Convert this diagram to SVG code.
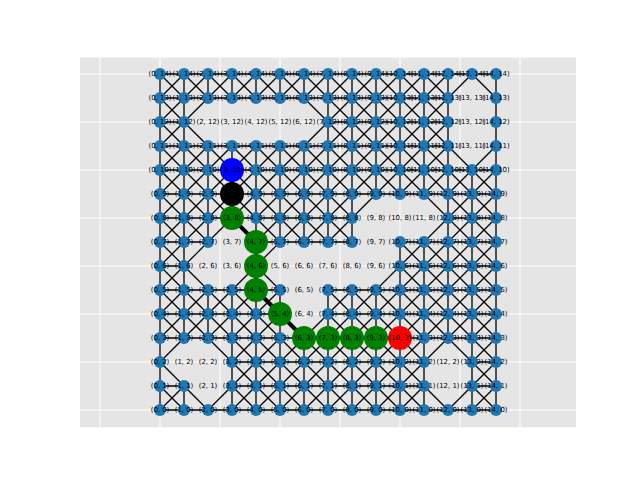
<svg xmlns="http://www.w3.org/2000/svg" width="640" height="480" viewBox="0 0 640 480">
<style>
.bg{fill:#e5e5e5}
.grid{stroke:#ffffff;stroke-width:1;fill:none}
.edge{stroke:#000;stroke-width:1.3;fill:none;stroke-linecap:butt}
.path{stroke:#000;stroke-width:4;fill:none;stroke-linejoin:round}
.n{fill:#1f77b4}
.big{r:12}
text{font-family:"DejaVu Sans","Liberation Sans",sans-serif;font-size:6.94px;text-anchor:middle;fill:#000}
</style>
<rect class="bg" x="80" y="57.6" width="496" height="369.6"/>
<g id="gridlines" class="grid">
<path d="M100 57.6V427.2M160 57.6V427.2M220 57.6V427.2M280 57.6V427.2M340 57.6V427.2M400 57.6V427.2M460 57.6V427.2M520 57.6V427.2"/>
<path d="M80 74H576M80 122H576M80 170H576M80 218H576M80 266H576M80 314H576M80 362H576M80 410H576"/>
</g>
<g id="connectors">
<path class="edge" d="M160 74H496M160 98H448M160 122H184M328 122H448M160 146H448M160 170H496M160 194H496M160 218H352M448 218H496M160 242H208M256 242H352M400 242H496M160 266H184M400 266H496M160 290H280M328 290H496M160 314H280M328 314H496M160 338H496M232 362H424M472 362H496M160 386H184M232 386H424M472 386H496M160 410H496"/>
<path class="edge" d="M160 74V410M184 74V338M184 386V410M208 74V98M208 146V242M208 290V338M232 74V98M232 146V218M232 290V410M256 74V98M256 146V410M280 74V98M280 146V242M280 290V410M304 74V98M304 146V242M304 338V410M328 74V242M328 290V410M352 74V242M352 290V410M376 74V194M376 290V410M400 74V194M400 242V410M424 74V194M424 242V410M448 74V338M472 170V410M496 74V410"/>
<path class="edge" d="M160 98L184 74M160 122L208 74M160 146L232 74M160 170L184 146M232 98L256 74M160 194L208 146M256 98L280 74M160 218L232 146M280 98L304 74M160 242L256 146M304 98L328 74M160 266L280 146M328 98L352 74M160 290L376 74M160 314L184 290M256 218L400 74M160 338L208 290M256 242L424 74M160 362L448 74M208 338L256 290M304 242L472 74M160 410L184 386M232 338L280 290M328 242L448 122M232 362L280 314M400 194L448 146M208 410L280 338M424 194L448 170M232 410L352 290M448 194L496 146M256 410L496 170M280 410L496 194M304 410L496 218M328 410L496 242M352 410L496 266M376 410L496 290M400 410L424 386M472 338L496 314M472 362L496 338M448 410L496 362M472 410L496 386"/>
<path class="edge" d="M160 386L184 410M160 362L208 410M160 314L184 338M232 386L256 410M160 290L280 410M160 266L304 410M160 242L328 410M160 218L184 242M232 290L352 410M160 194L208 242M256 290L376 410M160 170L208 218M256 266L280 290M328 338L400 410M160 146L256 242M328 314L424 410M160 122L280 242M328 290L448 410M160 98L304 242M352 290L424 362M160 74L184 98M232 146L328 242M376 290L424 338M472 386L496 410M184 74L208 98M256 146L352 242M400 290L496 386M208 74L232 98M280 146L352 218M400 266L496 362M232 74L256 98M304 146L352 194M400 242L496 338M256 74L280 98M328 146L376 194M424 242L496 314M280 74L400 194M448 242L496 290M304 74L496 266M328 74L496 242M352 74L496 218M376 74L496 194M400 74L448 122M424 74L448 98M472 74L496 98"/>
<path id="route" class="path" d="M232 170L232 194L232 218L256 242L256 266L256 290L280 314L304 338L328 338L352 338L376 338L400 338"/>
</g>
<g id="empty-labels">
<text x="472" y="100.4">(13, 13)</text>
<text x="208" y="124.4">(2, 12)</text><text x="232" y="124.4">(3, 12)</text><text x="256" y="124.4">(4, 12)</text><text x="280" y="124.4">(5, 12)</text><text x="304" y="124.4">(6, 12)</text><text x="472" y="124.4">(13, 12)</text>
<text x="472" y="148.4">(13, 11)</text>
<text x="376" y="220.4">(9, 8)</text><text x="400" y="220.4">(10, 8)</text><text x="424" y="220.4">(11, 8)</text>
<text x="232" y="244.4">(3, 7)</text><text x="376" y="244.4">(9, 7)</text>
<text x="208" y="268.4">(2, 6)</text><text x="232" y="268.4">(3, 6)</text><text x="280" y="268.4">(5, 6)</text><text x="304" y="268.4">(6, 6)</text><text x="328" y="268.4">(7, 6)</text><text x="352" y="268.4">(8, 6)</text><text x="376" y="268.4">(9, 6)</text>
<text x="304" y="292.4">(6, 5)</text>
<text x="304" y="316.4">(6, 4)</text>
<text x="184" y="364.4">(1, 2)</text><text x="208" y="364.4">(2, 2)</text><text x="448" y="364.4">(12, 2)</text>
<text x="208" y="388.4">(2, 1)</text><text x="448" y="388.4">(12, 1)</text>
</g>
<g id="nodes">
<g id="n0_14"><circle class="n" cx="160" cy="74" r="6"/><text x="160" y="76.4">(0, 14)</text></g>
<g id="n1_14"><circle class="n" cx="184" cy="74" r="6"/><text x="184" y="76.4">(1, 14)</text></g>
<g id="n2_14"><circle class="n" cx="208" cy="74" r="6"/><text x="208" y="76.4">(2, 14)</text></g>
<g id="n3_14"><circle class="n" cx="232" cy="74" r="6"/><text x="232" y="76.4">(3, 14)</text></g>
<g id="n4_14"><circle class="n" cx="256" cy="74" r="6"/><text x="256" y="76.4">(4, 14)</text></g>
<g id="n5_14"><circle class="n" cx="280" cy="74" r="6"/><text x="280" y="76.4">(5, 14)</text></g>
<g id="n6_14"><circle class="n" cx="304" cy="74" r="6"/><text x="304" y="76.4">(6, 14)</text></g>
<g id="n7_14"><circle class="n" cx="328" cy="74" r="6"/><text x="328" y="76.4">(7, 14)</text></g>
<g id="n8_14"><circle class="n" cx="352" cy="74" r="6"/><text x="352" y="76.4">(8, 14)</text></g>
<g id="n9_14"><circle class="n" cx="376" cy="74" r="6"/><text x="376" y="76.4">(9, 14)</text></g>
<g id="n10_14"><circle class="n" cx="400" cy="74" r="6"/><text x="400" y="76.4">(10, 14)</text></g>
<g id="n11_14"><circle class="n" cx="424" cy="74" r="6"/><text x="424" y="76.4">(11, 14)</text></g>
<g id="n12_14"><circle class="n" cx="448" cy="74" r="6"/><text x="448" y="76.4">(12, 14)</text></g>
<g id="n13_14"><circle class="n" cx="472" cy="74" r="6"/><text x="472" y="76.4">(13, 14)</text></g>
<g id="n14_14"><circle class="n" cx="496" cy="74" r="6"/><text x="496" y="76.4">(14, 14)</text></g>
<g id="n0_13"><circle class="n" cx="160" cy="98" r="6"/><text x="160" y="100.4">(0, 13)</text></g>
<g id="n1_13"><circle class="n" cx="184" cy="98" r="6"/><text x="184" y="100.4">(1, 13)</text></g>
<g id="n2_13"><circle class="n" cx="208" cy="98" r="6"/><text x="208" y="100.4">(2, 13)</text></g>
<g id="n3_13"><circle class="n" cx="232" cy="98" r="6"/><text x="232" y="100.4">(3, 13)</text></g>
<g id="n4_13"><circle class="n" cx="256" cy="98" r="6"/><text x="256" y="100.4">(4, 13)</text></g>
<g id="n5_13"><circle class="n" cx="280" cy="98" r="6"/><text x="280" y="100.4">(5, 13)</text></g>
<g id="n6_13"><circle class="n" cx="304" cy="98" r="6"/><text x="304" y="100.4">(6, 13)</text></g>
<g id="n7_13"><circle class="n" cx="328" cy="98" r="6"/><text x="328" y="100.4">(7, 13)</text></g>
<g id="n8_13"><circle class="n" cx="352" cy="98" r="6"/><text x="352" y="100.4">(8, 13)</text></g>
<g id="n9_13"><circle class="n" cx="376" cy="98" r="6"/><text x="376" y="100.4">(9, 13)</text></g>
<g id="n10_13"><circle class="n" cx="400" cy="98" r="6"/><text x="400" y="100.4">(10, 13)</text></g>
<g id="n11_13"><circle class="n" cx="424" cy="98" r="6"/><text x="424" y="100.4">(11, 13)</text></g>
<g id="n12_13"><circle class="n" cx="448" cy="98" r="6"/><text x="448" y="100.4">(12, 13)</text></g>
<g id="n14_13"><circle class="n" cx="496" cy="98" r="6"/><text x="496" y="100.4">(14, 13)</text></g>
<g id="n0_12"><circle class="n" cx="160" cy="122" r="6"/><text x="160" y="124.4">(0, 12)</text></g>
<g id="n1_12"><circle class="n" cx="184" cy="122" r="6"/><text x="184" y="124.4">(1, 12)</text></g>
<g id="n7_12"><circle class="n" cx="328" cy="122" r="6"/><text x="328" y="124.4">(7, 12)</text></g>
<g id="n8_12"><circle class="n" cx="352" cy="122" r="6"/><text x="352" y="124.4">(8, 12)</text></g>
<g id="n9_12"><circle class="n" cx="376" cy="122" r="6"/><text x="376" y="124.4">(9, 12)</text></g>
<g id="n10_12"><circle class="n" cx="400" cy="122" r="6"/><text x="400" y="124.4">(10, 12)</text></g>
<g id="n11_12"><circle class="n" cx="424" cy="122" r="6"/><text x="424" y="124.4">(11, 12)</text></g>
<g id="n12_12"><circle class="n" cx="448" cy="122" r="6"/><text x="448" y="124.4">(12, 12)</text></g>
<g id="n14_12"><circle class="n" cx="496" cy="122" r="6"/><text x="496" y="124.4">(14, 12)</text></g>
<g id="n0_11"><circle class="n" cx="160" cy="146" r="6"/><text x="160" y="148.4">(0, 11)</text></g>
<g id="n1_11"><circle class="n" cx="184" cy="146" r="6"/><text x="184" y="148.4">(1, 11)</text></g>
<g id="n2_11"><circle class="n" cx="208" cy="146" r="6"/><text x="208" y="148.4">(2, 11)</text></g>
<g id="n3_11"><circle class="n" cx="232" cy="146" r="6"/><text x="232" y="148.4">(3, 11)</text></g>
<g id="n4_11"><circle class="n" cx="256" cy="146" r="6"/><text x="256" y="148.4">(4, 11)</text></g>
<g id="n5_11"><circle class="n" cx="280" cy="146" r="6"/><text x="280" y="148.4">(5, 11)</text></g>
<g id="n6_11"><circle class="n" cx="304" cy="146" r="6"/><text x="304" y="148.4">(6, 11)</text></g>
<g id="n7_11"><circle class="n" cx="328" cy="146" r="6"/><text x="328" y="148.4">(7, 11)</text></g>
<g id="n8_11"><circle class="n" cx="352" cy="146" r="6"/><text x="352" y="148.4">(8, 11)</text></g>
<g id="n9_11"><circle class="n" cx="376" cy="146" r="6"/><text x="376" y="148.4">(9, 11)</text></g>
<g id="n10_11"><circle class="n" cx="400" cy="146" r="6"/><text x="400" y="148.4">(10, 11)</text></g>
<g id="n11_11"><circle class="n" cx="424" cy="146" r="6"/><text x="424" y="148.4">(11, 11)</text></g>
<g id="n12_11"><circle class="n" cx="448" cy="146" r="6"/><text x="448" y="148.4">(12, 11)</text></g>
<g id="n14_11"><circle class="n" cx="496" cy="146" r="6"/><text x="496" y="148.4">(14, 11)</text></g>
<g id="n0_10"><circle class="n" cx="160" cy="170" r="6"/><text x="160" y="172.4">(0, 10)</text></g>
<g id="n1_10"><circle class="n" cx="184" cy="170" r="6"/><text x="184" y="172.4">(1, 10)</text></g>
<g id="n2_10"><circle class="n" cx="208" cy="170" r="6"/><text x="208" y="172.4">(2, 10)</text></g>
<g id="n3_10"><circle fill="#0000ff" cx="232" cy="170" r="12"/><text x="232" y="172.4">(3, 10)</text></g>
<g id="n4_10"><circle class="n" cx="256" cy="170" r="6"/><text x="256" y="172.4">(4, 10)</text></g>
<g id="n5_10"><circle class="n" cx="280" cy="170" r="6"/><text x="280" y="172.4">(5, 10)</text></g>
<g id="n6_10"><circle class="n" cx="304" cy="170" r="6"/><text x="304" y="172.4">(6, 10)</text></g>
<g id="n7_10"><circle class="n" cx="328" cy="170" r="6"/><text x="328" y="172.4">(7, 10)</text></g>
<g id="n8_10"><circle class="n" cx="352" cy="170" r="6"/><text x="352" y="172.4">(8, 10)</text></g>
<g id="n9_10"><circle class="n" cx="376" cy="170" r="6"/><text x="376" y="172.4">(9, 10)</text></g>
<g id="n10_10"><circle class="n" cx="400" cy="170" r="6"/><text x="400" y="172.4">(10, 10)</text></g>
<g id="n11_10"><circle class="n" cx="424" cy="170" r="6"/><text x="424" y="172.4">(11, 10)</text></g>
<g id="n12_10"><circle class="n" cx="448" cy="170" r="6"/><text x="448" y="172.4">(12, 10)</text></g>
<g id="n13_10"><circle class="n" cx="472" cy="170" r="6"/><text x="472" y="172.4">(13, 10)</text></g>
<g id="n14_10"><circle class="n" cx="496" cy="170" r="6"/><text x="496" y="172.4">(14, 10)</text></g>
<g id="n0_9"><circle class="n" cx="160" cy="194" r="6"/><text x="160" y="196.4">(0, 9)</text></g>
<g id="n1_9"><circle class="n" cx="184" cy="194" r="6"/><text x="184" y="196.4">(1, 9)</text></g>
<g id="n2_9"><circle class="n" cx="208" cy="194" r="6"/><text x="208" y="196.4">(2, 9)</text></g>
<g id="n3_9"><circle fill="#000000" cx="232" cy="194" r="12"/><text x="232" y="196.4">(3, 9)</text></g>
<g id="n4_9"><circle class="n" cx="256" cy="194" r="6"/><text x="256" y="196.4">(4, 9)</text></g>
<g id="n5_9"><circle class="n" cx="280" cy="194" r="6"/><text x="280" y="196.4">(5, 9)</text></g>
<g id="n6_9"><circle class="n" cx="304" cy="194" r="6"/><text x="304" y="196.4">(6, 9)</text></g>
<g id="n7_9"><circle class="n" cx="328" cy="194" r="6"/><text x="328" y="196.4">(7, 9)</text></g>
<g id="n8_9"><circle class="n" cx="352" cy="194" r="6"/><text x="352" y="196.4">(8, 9)</text></g>
<g id="n9_9"><circle class="n" cx="376" cy="194" r="6"/><text x="376" y="196.4">(9, 9)</text></g>
<g id="n10_9"><circle class="n" cx="400" cy="194" r="6"/><text x="400" y="196.4">(10, 9)</text></g>
<g id="n11_9"><circle class="n" cx="424" cy="194" r="6"/><text x="424" y="196.4">(11, 9)</text></g>
<g id="n12_9"><circle class="n" cx="448" cy="194" r="6"/><text x="448" y="196.4">(12, 9)</text></g>
<g id="n13_9"><circle class="n" cx="472" cy="194" r="6"/><text x="472" y="196.4">(13, 9)</text></g>
<g id="n14_9"><circle class="n" cx="496" cy="194" r="6"/><text x="496" y="196.4">(14, 9)</text></g>
<g id="n0_8"><circle class="n" cx="160" cy="218" r="6"/><text x="160" y="220.4">(0, 8)</text></g>
<g id="n1_8"><circle class="n" cx="184" cy="218" r="6"/><text x="184" y="220.4">(1, 8)</text></g>
<g id="n2_8"><circle class="n" cx="208" cy="218" r="6"/><text x="208" y="220.4">(2, 8)</text></g>
<g id="n3_8"><circle fill="#008000" cx="232" cy="218" r="12"/><text x="232" y="220.4">(3, 8)</text></g>
<g id="n4_8"><circle class="n" cx="256" cy="218" r="6"/><text x="256" y="220.4">(4, 8)</text></g>
<g id="n5_8"><circle class="n" cx="280" cy="218" r="6"/><text x="280" y="220.4">(5, 8)</text></g>
<g id="n6_8"><circle class="n" cx="304" cy="218" r="6"/><text x="304" y="220.4">(6, 8)</text></g>
<g id="n7_8"><circle class="n" cx="328" cy="218" r="6"/><text x="328" y="220.4">(7, 8)</text></g>
<g id="n8_8"><circle class="n" cx="352" cy="218" r="6"/><text x="352" y="220.4">(8, 8)</text></g>
<g id="n12_8"><circle class="n" cx="448" cy="218" r="6"/><text x="448" y="220.4">(12, 8)</text></g>
<g id="n13_8"><circle class="n" cx="472" cy="218" r="6"/><text x="472" y="220.4">(13, 8)</text></g>
<g id="n14_8"><circle class="n" cx="496" cy="218" r="6"/><text x="496" y="220.4">(14, 8)</text></g>
<g id="n0_7"><circle class="n" cx="160" cy="242" r="6"/><text x="160" y="244.4">(0, 7)</text></g>
<g id="n1_7"><circle class="n" cx="184" cy="242" r="6"/><text x="184" y="244.4">(1, 7)</text></g>
<g id="n2_7"><circle class="n" cx="208" cy="242" r="6"/><text x="208" y="244.4">(2, 7)</text></g>
<g id="n4_7"><circle fill="#008000" cx="256" cy="242" r="12"/><text x="256" y="244.4">(4, 7)</text></g>
<g id="n5_7"><circle class="n" cx="280" cy="242" r="6"/><text x="280" y="244.4">(5, 7)</text></g>
<g id="n6_7"><circle class="n" cx="304" cy="242" r="6"/><text x="304" y="244.4">(6, 7)</text></g>
<g id="n7_7"><circle class="n" cx="328" cy="242" r="6"/><text x="328" y="244.4">(7, 7)</text></g>
<g id="n8_7"><circle class="n" cx="352" cy="242" r="6"/><text x="352" y="244.4">(8, 7)</text></g>
<g id="n10_7"><circle class="n" cx="400" cy="242" r="6"/><text x="400" y="244.4">(10, 7)</text></g>
<g id="n11_7"><circle class="n" cx="424" cy="242" r="6"/><text x="424" y="244.4">(11, 7)</text></g>
<g id="n12_7"><circle class="n" cx="448" cy="242" r="6"/><text x="448" y="244.4">(12, 7)</text></g>
<g id="n13_7"><circle class="n" cx="472" cy="242" r="6"/><text x="472" y="244.4">(13, 7)</text></g>
<g id="n14_7"><circle class="n" cx="496" cy="242" r="6"/><text x="496" y="244.4">(14, 7)</text></g>
<g id="n0_6"><circle class="n" cx="160" cy="266" r="6"/><text x="160" y="268.4">(0, 6)</text></g>
<g id="n1_6"><circle class="n" cx="184" cy="266" r="6"/><text x="184" y="268.4">(1, 6)</text></g>
<g id="n4_6"><circle fill="#008000" cx="256" cy="266" r="12"/><text x="256" y="268.4">(4, 6)</text></g>
<g id="n10_6"><circle class="n" cx="400" cy="266" r="6"/><text x="400" y="268.4">(10, 6)</text></g>
<g id="n11_6"><circle class="n" cx="424" cy="266" r="6"/><text x="424" y="268.4">(11, 6)</text></g>
<g id="n12_6"><circle class="n" cx="448" cy="266" r="6"/><text x="448" y="268.4">(12, 6)</text></g>
<g id="n13_6"><circle class="n" cx="472" cy="266" r="6"/><text x="472" y="268.4">(13, 6)</text></g>
<g id="n14_6"><circle class="n" cx="496" cy="266" r="6"/><text x="496" y="268.4">(14, 6)</text></g>
<g id="n0_5"><circle class="n" cx="160" cy="290" r="6"/><text x="160" y="292.4">(0, 5)</text></g>
<g id="n1_5"><circle class="n" cx="184" cy="290" r="6"/><text x="184" y="292.4">(1, 5)</text></g>
<g id="n2_5"><circle class="n" cx="208" cy="290" r="6"/><text x="208" y="292.4">(2, 5)</text></g>
<g id="n3_5"><circle class="n" cx="232" cy="290" r="6"/><text x="232" y="292.4">(3, 5)</text></g>
<g id="n4_5"><circle fill="#008000" cx="256" cy="290" r="12"/><text x="256" y="292.4">(4, 5)</text></g>
<g id="n5_5"><circle class="n" cx="280" cy="290" r="6"/><text x="280" y="292.4">(5, 5)</text></g>
<g id="n7_5"><circle class="n" cx="328" cy="290" r="6"/><text x="328" y="292.4">(7, 5)</text></g>
<g id="n8_5"><circle class="n" cx="352" cy="290" r="6"/><text x="352" y="292.4">(8, 5)</text></g>
<g id="n9_5"><circle class="n" cx="376" cy="290" r="6"/><text x="376" y="292.4">(9, 5)</text></g>
<g id="n10_5"><circle class="n" cx="400" cy="290" r="6"/><text x="400" y="292.4">(10, 5)</text></g>
<g id="n11_5"><circle class="n" cx="424" cy="290" r="6"/><text x="424" y="292.4">(11, 5)</text></g>
<g id="n12_5"><circle class="n" cx="448" cy="290" r="6"/><text x="448" y="292.4">(12, 5)</text></g>
<g id="n13_5"><circle class="n" cx="472" cy="290" r="6"/><text x="472" y="292.4">(13, 5)</text></g>
<g id="n14_5"><circle class="n" cx="496" cy="290" r="6"/><text x="496" y="292.4">(14, 5)</text></g>
<g id="n0_4"><circle class="n" cx="160" cy="314" r="6"/><text x="160" y="316.4">(0, 4)</text></g>
<g id="n1_4"><circle class="n" cx="184" cy="314" r="6"/><text x="184" y="316.4">(1, 4)</text></g>
<g id="n2_4"><circle class="n" cx="208" cy="314" r="6"/><text x="208" y="316.4">(2, 4)</text></g>
<g id="n3_4"><circle class="n" cx="232" cy="314" r="6"/><text x="232" y="316.4">(3, 4)</text></g>
<g id="n4_4"><circle class="n" cx="256" cy="314" r="6"/><text x="256" y="316.4">(4, 4)</text></g>
<g id="n5_4"><circle fill="#008000" cx="280" cy="314" r="12"/><text x="280" y="316.4">(5, 4)</text></g>
<g id="n7_4"><circle class="n" cx="328" cy="314" r="6"/><text x="328" y="316.4">(7, 4)</text></g>
<g id="n8_4"><circle class="n" cx="352" cy="314" r="6"/><text x="352" y="316.4">(8, 4)</text></g>
<g id="n9_4"><circle class="n" cx="376" cy="314" r="6"/><text x="376" y="316.4">(9, 4)</text></g>
<g id="n10_4"><circle class="n" cx="400" cy="314" r="6"/><text x="400" y="316.4">(10, 4)</text></g>
<g id="n11_4"><circle class="n" cx="424" cy="314" r="6"/><text x="424" y="316.4">(11, 4)</text></g>
<g id="n12_4"><circle class="n" cx="448" cy="314" r="6"/><text x="448" y="316.4">(12, 4)</text></g>
<g id="n13_4"><circle class="n" cx="472" cy="314" r="6"/><text x="472" y="316.4">(13, 4)</text></g>
<g id="n14_4"><circle class="n" cx="496" cy="314" r="6"/><text x="496" y="316.4">(14, 4)</text></g>
<g id="n0_3"><circle class="n" cx="160" cy="338" r="6"/><text x="160" y="340.4">(0, 3)</text></g>
<g id="n1_3"><circle class="n" cx="184" cy="338" r="6"/><text x="184" y="340.4">(1, 3)</text></g>
<g id="n2_3"><circle class="n" cx="208" cy="338" r="6"/><text x="208" y="340.4">(2, 3)</text></g>
<g id="n3_3"><circle class="n" cx="232" cy="338" r="6"/><text x="232" y="340.4">(3, 3)</text></g>
<g id="n4_3"><circle class="n" cx="256" cy="338" r="6"/><text x="256" y="340.4">(4, 3)</text></g>
<g id="n5_3"><circle class="n" cx="280" cy="338" r="6"/><text x="280" y="340.4">(5, 3)</text></g>
<g id="n6_3"><circle fill="#008000" cx="304" cy="338" r="12"/><text x="304" y="340.4">(6, 3)</text></g>
<g id="n7_3"><circle fill="#008000" cx="328" cy="338" r="12"/><text x="328" y="340.4">(7, 3)</text></g>
<g id="n8_3"><circle fill="#008000" cx="352" cy="338" r="12"/><text x="352" y="340.4">(8, 3)</text></g>
<g id="n9_3"><circle fill="#008000" cx="376" cy="338" r="12"/><text x="376" y="340.4">(9, 3)</text></g>
<g id="n10_3"><circle fill="#ff0000" cx="400" cy="338" r="12"/><text x="400" y="340.4">(10, 3)</text></g>
<g id="n11_3"><circle class="n" cx="424" cy="338" r="6"/><text x="424" y="340.4">(11, 3)</text></g>
<g id="n12_3"><circle class="n" cx="448" cy="338" r="6"/><text x="448" y="340.4">(12, 3)</text></g>
<g id="n13_3"><circle class="n" cx="472" cy="338" r="6"/><text x="472" y="340.4">(13, 3)</text></g>
<g id="n14_3"><circle class="n" cx="496" cy="338" r="6"/><text x="496" y="340.4">(14, 3)</text></g>
<g id="n0_2"><circle class="n" cx="160" cy="362" r="6"/><text x="160" y="364.4">(0, 2)</text></g>
<g id="n3_2"><circle class="n" cx="232" cy="362" r="6"/><text x="232" y="364.4">(3, 2)</text></g>
<g id="n4_2"><circle class="n" cx="256" cy="362" r="6"/><text x="256" y="364.4">(4, 2)</text></g>
<g id="n5_2"><circle class="n" cx="280" cy="362" r="6"/><text x="280" y="364.4">(5, 2)</text></g>
<g id="n6_2"><circle class="n" cx="304" cy="362" r="6"/><text x="304" y="364.4">(6, 2)</text></g>
<g id="n7_2"><circle class="n" cx="328" cy="362" r="6"/><text x="328" y="364.4">(7, 2)</text></g>
<g id="n8_2"><circle class="n" cx="352" cy="362" r="6"/><text x="352" y="364.4">(8, 2)</text></g>
<g id="n9_2"><circle class="n" cx="376" cy="362" r="6"/><text x="376" y="364.4">(9, 2)</text></g>
<g id="n10_2"><circle class="n" cx="400" cy="362" r="6"/><text x="400" y="364.4">(10, 2)</text></g>
<g id="n11_2"><circle class="n" cx="424" cy="362" r="6"/><text x="424" y="364.4">(11, 2)</text></g>
<g id="n13_2"><circle class="n" cx="472" cy="362" r="6"/><text x="472" y="364.4">(13, 2)</text></g>
<g id="n14_2"><circle class="n" cx="496" cy="362" r="6"/><text x="496" y="364.4">(14, 2)</text></g>
<g id="n0_1"><circle class="n" cx="160" cy="386" r="6"/><text x="160" y="388.4">(0, 1)</text></g>
<g id="n1_1"><circle class="n" cx="184" cy="386" r="6"/><text x="184" y="388.4">(1, 1)</text></g>
<g id="n3_1"><circle class="n" cx="232" cy="386" r="6"/><text x="232" y="388.4">(3, 1)</text></g>
<g id="n4_1"><circle class="n" cx="256" cy="386" r="6"/><text x="256" y="388.4">(4, 1)</text></g>
<g id="n5_1"><circle class="n" cx="280" cy="386" r="6"/><text x="280" y="388.4">(5, 1)</text></g>
<g id="n6_1"><circle class="n" cx="304" cy="386" r="6"/><text x="304" y="388.4">(6, 1)</text></g>
<g id="n7_1"><circle class="n" cx="328" cy="386" r="6"/><text x="328" y="388.4">(7, 1)</text></g>
<g id="n8_1"><circle class="n" cx="352" cy="386" r="6"/><text x="352" y="388.4">(8, 1)</text></g>
<g id="n9_1"><circle class="n" cx="376" cy="386" r="6"/><text x="376" y="388.4">(9, 1)</text></g>
<g id="n10_1"><circle class="n" cx="400" cy="386" r="6"/><text x="400" y="388.4">(10, 1)</text></g>
<g id="n11_1"><circle class="n" cx="424" cy="386" r="6"/><text x="424" y="388.4">(11, 1)</text></g>
<g id="n13_1"><circle class="n" cx="472" cy="386" r="6"/><text x="472" y="388.4">(13, 1)</text></g>
<g id="n14_1"><circle class="n" cx="496" cy="386" r="6"/><text x="496" y="388.4">(14, 1)</text></g>
<g id="n0_0"><circle class="n" cx="160" cy="410" r="6"/><text x="160" y="412.4">(0, 0)</text></g>
<g id="n1_0"><circle class="n" cx="184" cy="410" r="6"/><text x="184" y="412.4">(1, 0)</text></g>
<g id="n2_0"><circle class="n" cx="208" cy="410" r="6"/><text x="208" y="412.4">(2, 0)</text></g>
<g id="n3_0"><circle class="n" cx="232" cy="410" r="6"/><text x="232" y="412.4">(3, 0)</text></g>
<g id="n4_0"><circle class="n" cx="256" cy="410" r="6"/><text x="256" y="412.4">(4, 0)</text></g>
<g id="n5_0"><circle class="n" cx="280" cy="410" r="6"/><text x="280" y="412.4">(5, 0)</text></g>
<g id="n6_0"><circle class="n" cx="304" cy="410" r="6"/><text x="304" y="412.4">(6, 0)</text></g>
<g id="n7_0"><circle class="n" cx="328" cy="410" r="6"/><text x="328" y="412.4">(7, 0)</text></g>
<g id="n8_0"><circle class="n" cx="352" cy="410" r="6"/><text x="352" y="412.4">(8, 0)</text></g>
<g id="n9_0"><circle class="n" cx="376" cy="410" r="6"/><text x="376" y="412.4">(9, 0)</text></g>
<g id="n10_0"><circle class="n" cx="400" cy="410" r="6"/><text x="400" y="412.4">(10, 0)</text></g>
<g id="n11_0"><circle class="n" cx="424" cy="410" r="6"/><text x="424" y="412.4">(11, 0)</text></g>
<g id="n12_0"><circle class="n" cx="448" cy="410" r="6"/><text x="448" y="412.4">(12, 0)</text></g>
<g id="n13_0"><circle class="n" cx="472" cy="410" r="6"/><text x="472" y="412.4">(13, 0)</text></g>
<g id="n14_0"><circle class="n" cx="496" cy="410" r="6"/><text x="496" y="412.4">(14, 0)</text></g>
</g>
</svg>
